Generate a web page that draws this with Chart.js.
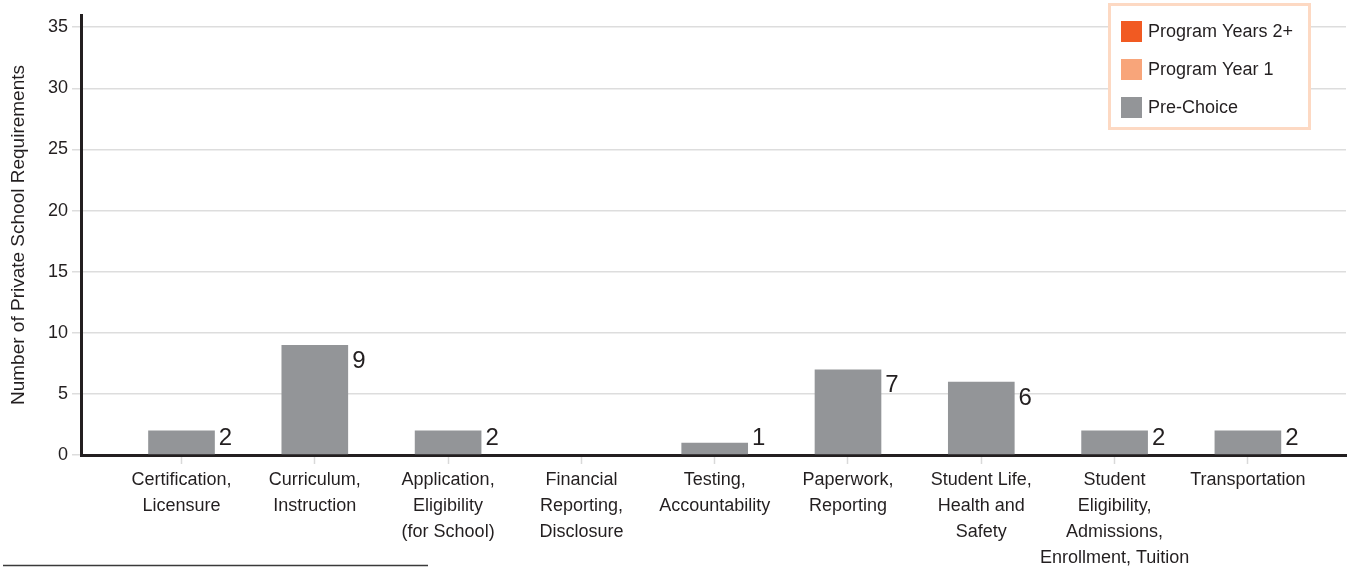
<!DOCTYPE html>
<html>
<head>
<meta charset="utf-8">
<script src="https://cdn.jsdelivr.net/npm/chart.js@4/dist/chart.umd.min.js"></script>
<style>
  html, body { margin: 0; padding: 0; background: #fff; }
  #wrap { width: 1348px; height: 572px; }
</style>
</head>
<body>
<div id="wrap"><canvas id="chart" width="1348" height="572"></canvas></div>
<script>
// categories (multi-line tick labels)
const categories = [
  ["Certification,", "Licensure"],
  ["Curriculum,", "Instruction"],
  ["Application,", "Eligibility", "(for School)"],
  ["Financial", "Reporting,", "Disclosure"],
  ["Testing,", "Accountability"],
  ["Paperwork,", "Reporting"],
  ["Student Life,", "Health and", "Safety"],
  ["Student", "Eligibility,", "Admissions,", "Enrollment, Tuition"],
  ["Transportation"]
];

const preChoice = [2, 9, 2, 0, 1, 7, 6, 2, 2];
const programYear1 = [0, 0, 0, 0, 0, 0, 0, 0, 0];
const programYears2 = [0, 0, 0, 0, 0, 0, 0, 0, 0];

const yTicks = [0, 5, 10, 15, 20, 25, 30, 35];

const ink = "#231f20";
const font = "'Liberation Sans', Arial, sans-serif";

function points(arr){
  return arr.map((v, i) => ({ x: i, y: v }));
}

// value labels to the right of the gray bars
const valueLabels = {
  id: "valueLabels",
  afterDatasetsDraw(chart){
    const ctx = chart.ctx;
    const meta = chart.getDatasetMeta(0);
    ctx.save();
    ctx.fillStyle = ink;
    ctx.font = "24px " + font;
    ctx.textAlign = "left";
    ctx.textBaseline = "alphabetic";
    meta.data.forEach((bar, i) => {
      const v = preChoice[i];
      if (!v) return;
      // sits just below the bar top, but never lower than the axis allows
      const base = Math.min(bar.y + 23, 445);
      ctx.fillText(String(v), bar.x + bar.width / 2 + 4, base);
    });
    ctx.restore();
  }
};

// boxed legend in the top right, plus the short rule at the bottom
const boxLegend = {
  id: "boxLegend",
  afterDraw(chart){
    const ctx = chart.ctx;
    ctx.save();
    ctx.fillStyle = "#fff";
    ctx.fillRect(1109, 4, 201, 125);
    ctx.strokeStyle = "#fdd9c3";
    ctx.lineWidth = 3;
    ctx.strokeRect(1109.5, 4.5, 200, 124);
    const items = chart.data.datasets.slice().reverse();
    const rows = [21, 59, 97];
    ctx.font = "18px " + font;
    ctx.textBaseline = "middle";
    items.forEach((ds, k) => {
      ctx.fillStyle = ds.backgroundColor;
      ctx.fillRect(1121, rows[k], 21, 21);
      ctx.fillStyle = ink;
      ctx.fillText(ds.label, 1148, rows[k] + 11);
    });
    // footnote rule
    ctx.strokeStyle = "#3a3a3a";
    ctx.lineWidth = 1.5;
    ctx.beginPath();
    ctx.moveTo(3, 565.5);
    ctx.lineTo(428, 565.5);
    ctx.stroke();
    ctx.restore();
  }
};

new Chart(document.getElementById("chart"), {
  type: "bar",
  data: {
    datasets: [
      { label: "Pre-Choice", data: points(preChoice), backgroundColor: "#939598" },
      { label: "Program Year 1", data: points(programYear1), backgroundColor: "#f8a57a" },
      { label: "Program Years 2+", data: points(programYears2), backgroundColor: "#f15a22" }
    ]
  },
  options: {
    responsive: false,
    animation: false,
    layout: { padding: { top: 15, right: 2, left: 0, bottom: 0 } },
    datasets: { bar: { barPercentage: 0.5, categoryPercentage: 1, borderWidth: 0 } },
    plugins: { legend: { display: false }, tooltip: { enabled: false } },
    scales: {
      x: {
        type: "linear",
        stacked: true,
        offset: false,
        min: -0.754,
        max: 8.736,
        afterBuildTicks(scale){
          scale.ticks = categories.map((c, i) => ({ value: i }));
        },
        afterFit(scale){ scale.height = 117; },
        ticks: {
          autoSkip: false,
          maxRotation: 0,
          padding: 3,
          color: ink,
          font: { family: font, size: 18, lineHeight: 1.45 },
          callback: (v, i) => categories[i]
        },
        grid: {
          offset: false,
          drawOnChartArea: false,
          drawTicks: true,
          tickLength: 9,
          tickColor: "#d9d9d9",
          tickWidth: 1.5
        },
        border: { color: ink, width: 3 }
      },
      y: {
        stacked: true,
        min: 0,
        max: 36,
        afterBuildTicks(scale){
          scale.ticks = yTicks.map(v => ({ value: v }));
        },
        afterFit(scale){ scale.width = 81; },
        ticks: {
          padding: 4,
          color: ink,
          font: { family: font, size: 18 }
        },
        grid: {
          color: "#dddddd",
          lineWidth: 1.5,
          tickLength: 9
        },
        border: { color: ink, width: 3 },
        title: {
          display: true,
          text: "Number of Private School Requirements",
          color: ink,
          font: { family: font, size: 19 },
          padding: { top: 7, bottom: 0 }
        }
      }
    }
  },
  plugins: [valueLabels, boxLegend]
});
</script>
</body>
</html>
